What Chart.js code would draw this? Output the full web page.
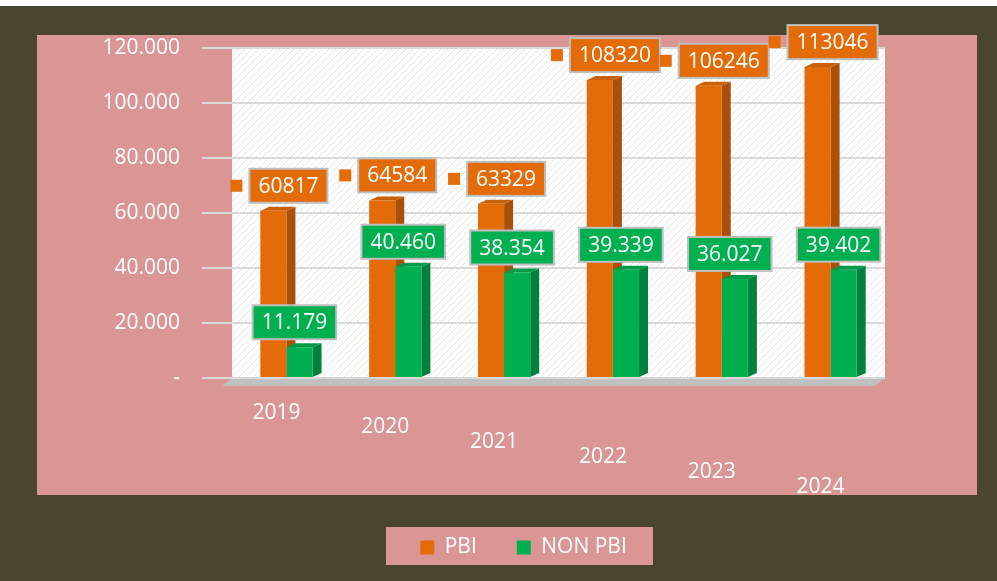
<!DOCTYPE html>
<html>
<head>
<meta charset="utf-8">
<script src="https://cdn.jsdelivr.net/npm/chart.js@4.4.1/dist/chart.umd.min.js"></script>
<style>
  html, body { margin: 0; padding: 0; background: #4a452e; }
  #wrap { width: 997px; height: 581px; }
</style>
</head>
<body>
<div id="wrap"><canvas id="chart" width="997" height="581"></canvas></div>
<script>
// data
const years = ['2019', '2020', '2021', '2022', '2023', '2024'];
const pbi = [60817, 64584, 63329, 108320, 106246, 113046];
const nonPbi = [11179, 40460, 38354, 39339, 36027, 39402];
const seriesNames = ['PBI', 'NON PBI'];

const ORANGE = '#e36c09';
const GREEN = '#00b050';
const FONT = '"Open Sans", "Noto Sans", sans-serif';
const FSIZE = 21;

function fmtDot(v) {
    return String(v).replace(/\B(?=(\d{3})+(?!\d))/g, '.');
}

function makeHatch(ctx) {
    const c = document.createElement('canvas');
    c.width = 7; c.height = 7;
    const g = c.getContext('2d');
    g.fillStyle = '#ffffff';
    g.fillRect(0, 0, 7, 7);
    g.strokeStyle = '#e2e2e2';
    g.lineWidth = 1;
    g.beginPath();
    g.moveTo(-1, 8); g.lineTo(8, -1);
    g.moveTo(-1, 1); g.lineTo(1, -1);
    g.moveTo(6, 8); g.lineTo(8, 6);
    g.stroke();
    return ctx.createPattern(c, 'repeat');
}

// fondo, pared y suelo
const backdrop = {
    id: 'backdrop',
    beforeDraw(chart) {
        const { ctx, chartArea: a } = chart;
        ctx.save();
        ctx.fillStyle = '#4a452e';
        ctx.fillRect(0, 0, chart.width, chart.height);
        ctx.fillStyle = '#ffffff';
        ctx.fillRect(0, 0, chart.width, 6);
        ctx.fillStyle = '#d99694';
        ctx.fillRect(37, 35, 940, 460);
        ctx.fillRect(386, 527, 267, 38);
        ctx.fillStyle = makeHatch(ctx);
        ctx.fillRect(a.left, a.top, a.width, a.height);
        ctx.fillStyle = '#c0c0c0';
        ctx.beginPath();
        ctx.moveTo(a.left, a.bottom);
        ctx.lineTo(a.right, a.bottom);
        ctx.lineTo(a.right - 10, a.bottom + 8);
        ctx.lineTo(a.left - 10, a.bottom + 8);
        ctx.closePath();
        ctx.fill();
        ctx.restore();
    }
};

// caras laterales y superiores de las barras
const faces = {
    id: 'faces',
    beforeDatasetsDraw(chart) {
        const ctx = chart.ctx;
        const shades = [['#a9500a', '#c95f08'], ['#00803d', '#009a49']];
        const dx = 9, dy = -4;
        ctx.save();
        [0, 1].forEach(di => {
            chart.getDatasetMeta(di).data.forEach(el => {
                const { x, y, base, width } = el.getProps(['x', 'y', 'base', 'width'], true);
                const l = x - width / 2, r = x + width / 2;
                ctx.fillStyle = shades[di][0];
                ctx.beginPath();
                ctx.moveTo(r, y); ctx.lineTo(r + dx, y + dy);
                ctx.lineTo(r + dx, base + dy); ctx.lineTo(r, base);
                ctx.closePath(); ctx.fill();
                ctx.fillStyle = shades[di][1];
                ctx.beginPath();
                ctx.moveTo(l, y); ctx.lineTo(l + dx, y + dy);
                ctx.lineTo(r + dx, y + dy); ctx.lineTo(r, y);
                ctx.closePath(); ctx.fill();
            });
        });
        ctx.restore();
    }
};

// etiquetas de años y de datos
const labels = {
    id: 'labels',
    afterDraw(chart) {
        const ctx = chart.ctx;
        const xs = chart.scales.x;
        ctx.save();
        ctx.font = FSIZE + 'px ' + FONT;
        ctx.textBaseline = 'middle';
        ctx.textAlign = 'center';

        years.forEach((yr, i) => {
            const x = xs.getPixelForValue(i) - 10;
            const y = 412 + (x - 272) * 0.137;
            ctx.fillStyle = '#ffffff';
            ctx.fillText(yr, x, y);
        });

        const sets = [
            { di: 0, values: pbi, color: ORANGE, text: v => String(v), off: 2, key: true },
            { di: 1, values: nonPbi, color: GREEN, text: fmtDot, off: 8, key: false }
        ];
        sets.forEach(s => {
            chart.getDatasetMeta(s.di).data.forEach((el, i) => {
                const txt = s.text(s.values[i]);
                const w = ctx.measureText(txt).width + 18;
                const h = 34;
                const cx = xs.getPixelForValue(i) + s.off;
                const bottom = el.y - 8;
                const left = cx - w / 2, top = bottom - h;
                ctx.fillStyle = s.color;
                ctx.fillRect(left, top, w, h);
                ctx.strokeStyle = '#bfbfbf';
                ctx.lineWidth = 2;
                ctx.strokeRect(left, top, w, h);
                if (s.key) {
                    ctx.fillRect(left - 19, top + h / 2 - 6, 12, 12);
                }
                ctx.fillStyle = '#ffffff';
                ctx.fillText(txt, cx, top + h / 2 + 1);
            });
        });
        ctx.restore();
    }
};

const ctx = document.getElementById('chart').getContext('2d');
const chart = new Chart(ctx, {
    type: 'bar',
    data: {
        labels: years,
        datasets: [
            {
                label: seriesNames[0],
                data: pbi,
                backgroundColor: ORANGE,
                barPercentage: 1.0,
                categoryPercentage: 0.48
            },
            {
                label: seriesNames[1],
                data: nonPbi,
                backgroundColor: GREEN,
                barPercentage: 1.0,
                categoryPercentage: 0.48
            }
        ]
    },
    options: {
        responsive: false,
        animation: false,
        layout: { padding: { left: 70, right: 20, top: 48, bottom: 13 } },
        plugins: {
            tooltip: { enabled: false },
            legend: {
                position: 'bottom',
                labels: {
                    color: '#ffffff',
                    font: { family: FONT, size: FSIZE },
                    boxWidth: 14,
                    boxHeight: 14,
                    padding: 40
                }
            }
        },
        scales: {
            x: {
                grid: { display: false },
                border: { display: false },
                ticks: { display: false },
                afterFit(s) { s.height = 119; }
            },
            y: {
                min: 0,
                max: 120000,
                border: { display: false },
                grid: { color: '#d9d9d9', lineWidth: 2, tickLength: 30 },
                ticks: {
                    stepSize: 20000,
                    color: '#ffffff',
                    padding: 22,
                    font: { family: FONT, size: FSIZE },
                    callback: v => v === 0 ? '-' : fmtDot(v)
                },
                afterFit(s) { s.width = 162; }
            },
            yR: {
                type: 'linear',
                position: 'right',
                grid: { display: false },
                border: { display: false },
                ticks: { display: false },
                afterFit(s) { s.width = 92; }
            }
        }
    },
    plugins: [backdrop, faces, labels]
});
</script>
</body>
</html>
